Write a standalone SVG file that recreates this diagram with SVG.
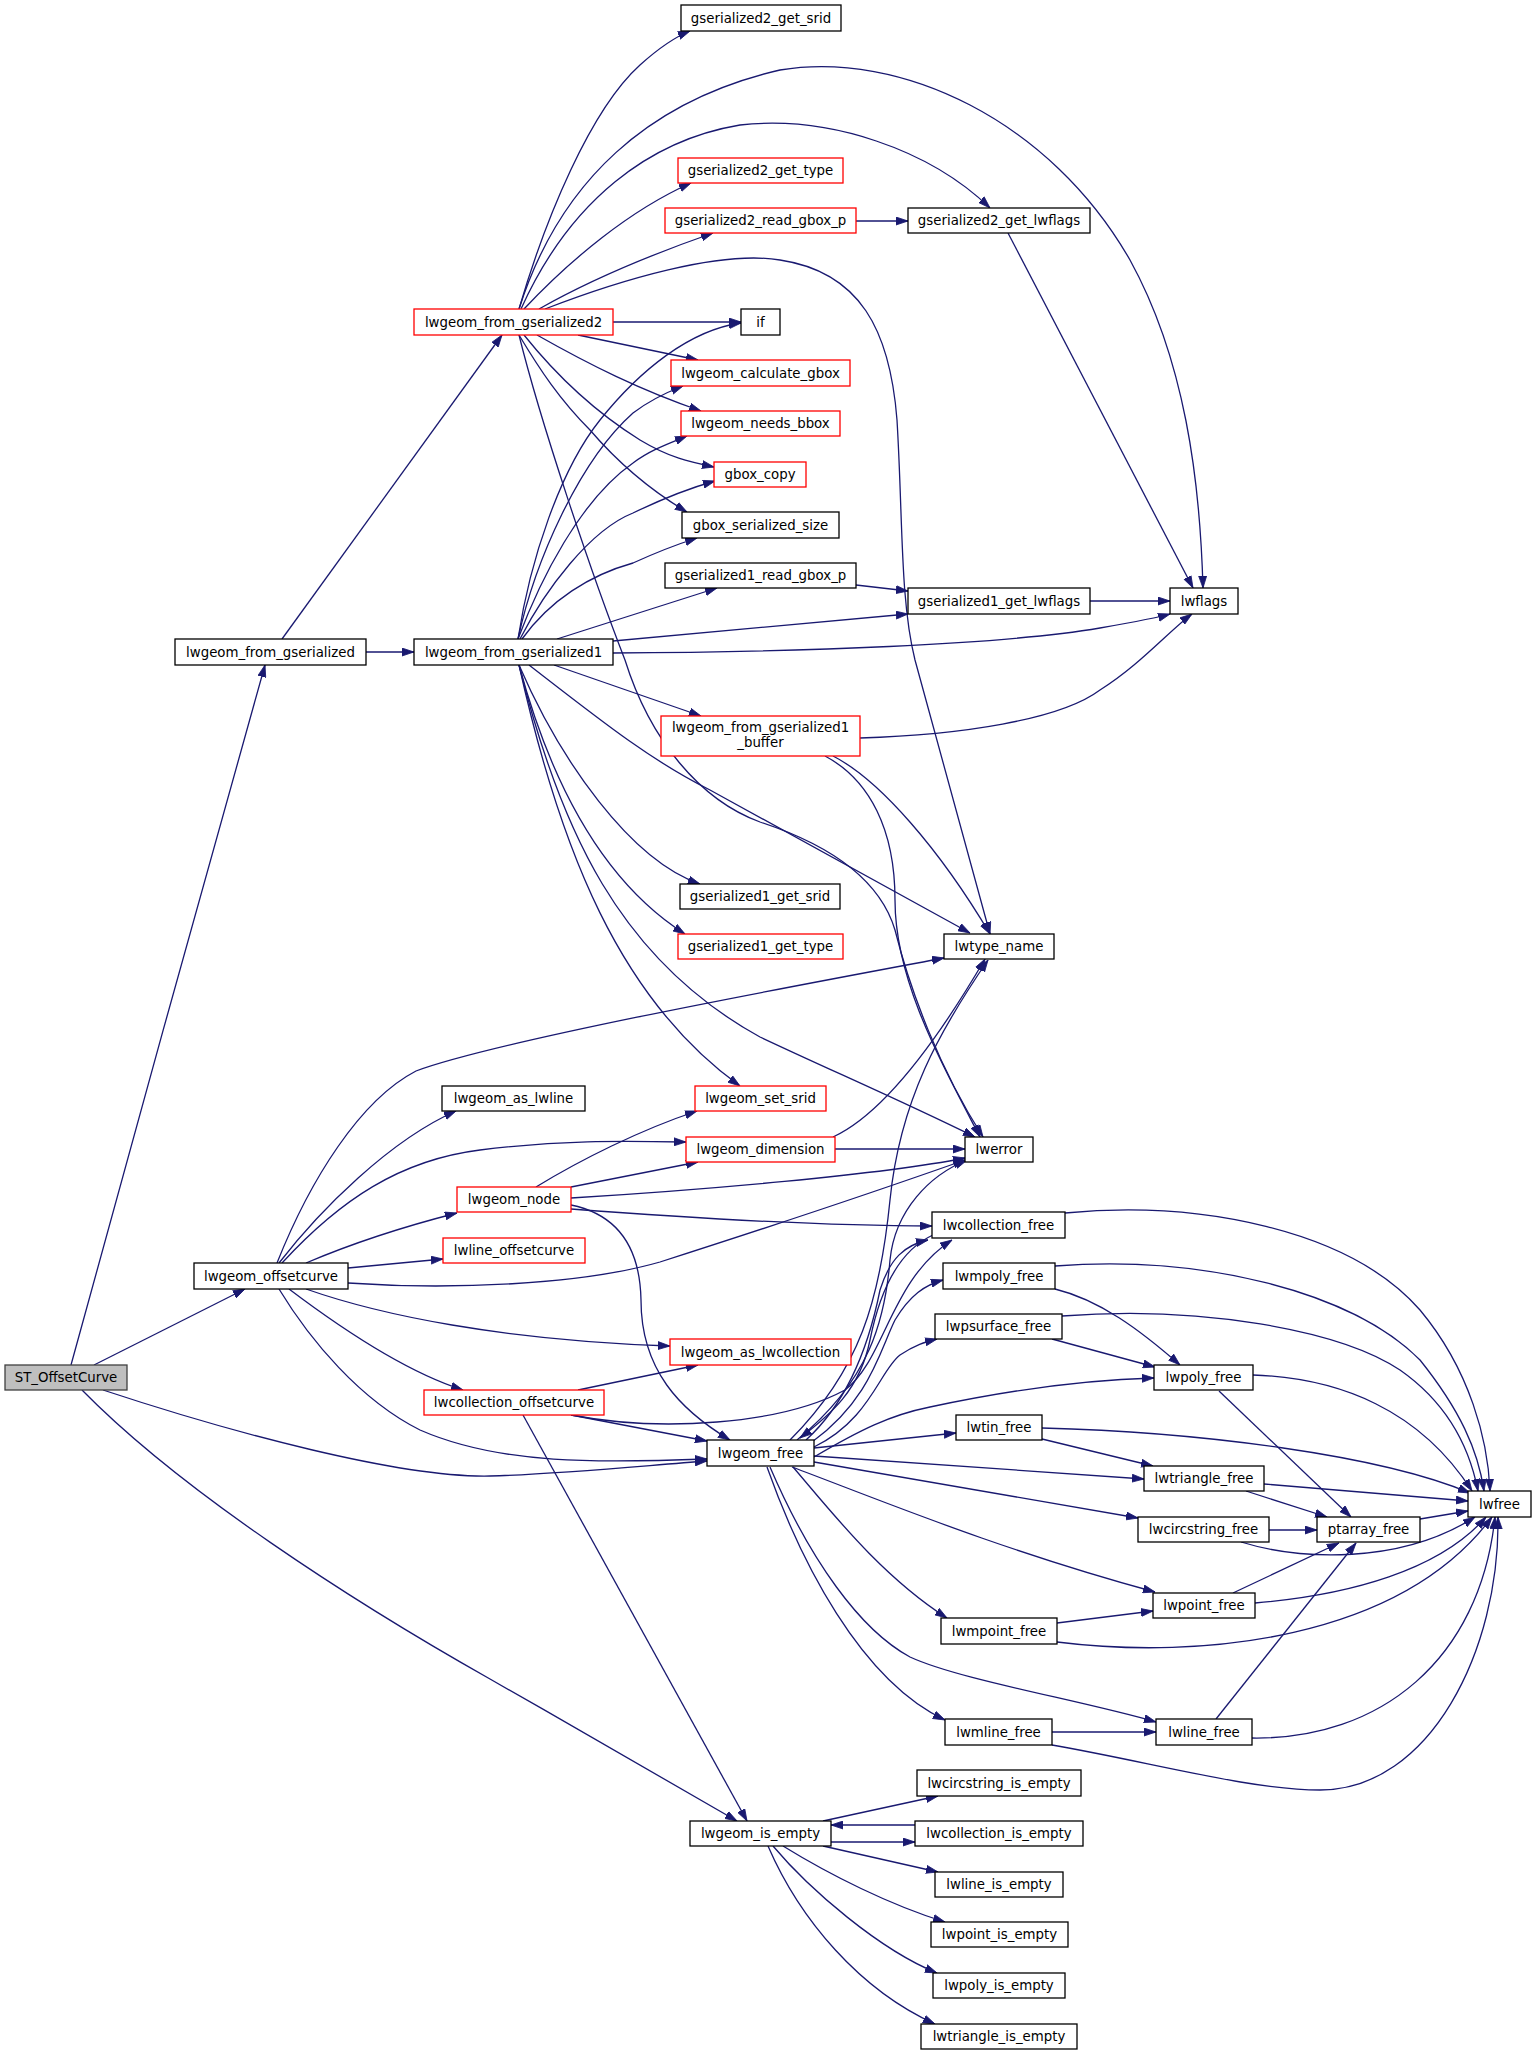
<svg xmlns="http://www.w3.org/2000/svg" width="1536" height="2055" viewBox="0 0 1536 2055">
<defs>
<marker id="ah" markerUnits="userSpaceOnUse" markerWidth="12" markerHeight="9" viewBox="0 0 12 9" refX="12" refY="4.5" orient="auto">
<path d="M0,0.5 L12,4.5 L0,8.5 z" fill="#191970" stroke="#191970" stroke-width="0.8"/>
</marker>
</defs>
<style>
.n rect{fill:#ffffff;stroke:#000000;stroke-width:1.3}
.n.r rect{stroke:#ff0000}
.n.g rect{fill:#bfbfbf;stroke:#404040}
.n text{font-family:"DejaVu Sans","Liberation Sans",sans-serif;font-size:13.33px;fill:#000000;text-anchor:middle}
#edges path{fill:none;stroke:#191970;stroke-width:1.3;marker-end:url(#ah)}
</style>
<rect width="1536" height="2055" fill="#ffffff"/>
<g id="edges">
<!-- ST_OffsetCurve -->
<path d="M71,1365 C120,1180 220,830 265,665"/>
<path d="M94,1365 L245,1289"/>
<path d="M103,1390 C230,1432 400,1478 490,1476 C560,1474 640,1466 707,1461"/>
<path d="M82,1390 C180,1490 350,1600 490,1679 C580,1730 680,1788 737,1821"/>
<!-- lwgeom_from_gserialized -->
<path d="M282,639 L502,335"/>
<path d="M366,652 L414,652"/>
<!-- lwgeom_from_gserialized2 -->
<path d="M519,309 C545,220 590,110 640,65 C660,47 675,37 690,31"/>
<path d="M519,309 C560,180 650,100 780,70 C900,50 1050,120 1130,260 C1185,360 1200,480 1203,588"/>
<path d="M521,309 C570,200 650,140 740,125 C830,115 930,150 990,208"/>
<path d="M524,309 C570,260 630,210 691,183"/>
<path d="M539,309 C590,280 650,255 713,233"/>
<path d="M545,309 C620,280 720,250 780,260 C860,272 890,330 897,420 C903,520 900,600 915,660 L990,934"/>
<path d="M613,322 L741,322"/>
<path d="M578,335 L698,360"/>
<path d="M537,335 C590,365 640,390 701,411"/>
<path d="M524,335 C560,380 600,415 640,440 C670,458 690,462 714,467"/>
<path d="M519,335 C540,370 560,400 590,430 C620,465 650,490 687,512"/>
<path d="M519,335 C540,420 590,570 625,660 C650,740 700,800 760,822 C830,845 880,880 895,930 C910,990 940,1070 983,1137"/>
<!-- lwgeom_from_gserialized1 -->
<path d="M518,639 C530,560 560,470 600,420 C640,370 690,330 741,323"/>
<path d="M518,639 C535,560 580,460 633,413 C650,400 665,393 683,386"/>
<path d="M518,639 C540,580 580,500 633,463 C650,450 670,443 687,436"/>
<path d="M520,639 C545,590 590,530 633,513 C660,500 690,488 715,481"/>
<path d="M522,639 C550,600 590,575 633,563 C655,553 675,545 697,538"/>
<path d="M557,639 L717,588"/>
<path d="M613,641 L908,614"/>
<path d="M613,653 C800,652 1000,645 1100,628 C1140,621 1160,617 1170,614"/>
<path d="M554,665 L701,716"/>
<path d="M529,665 C600,720 650,760 710,790 L970,933"/>
<path d="M519,665 C560,830 620,960 760,1037 C830,1070 900,1100 975,1137"/>
<path d="M519,665 C560,760 630,860 700,884"/>
<path d="M519,665 C550,780 600,880 685,934"/>
<path d="M519,665 C560,850 620,1000 740,1086"/>
<!-- gserialized helpers -->
<path d="M856,221 L908,221"/>
<path d="M1008,233 L1193,588"/>
<path d="M856,585 L908,591"/>
<path d="M1090,601 L1170,601"/>
<!-- buffer -->
<path d="M860,738 C960,735 1060,720 1100,690 C1140,665 1170,630 1192,614"/>
<path d="M833,756 C880,780 940,850 990,934"/>
<path d="M825,756 C870,780 895,830 895,900 C895,980 940,1060 980,1137"/>
<!-- lwgeom_offsetcurve -->
<path d="M277,1263 C310,1180 360,1100 416,1071 C500,1040 800,985 944,958"/>
<path d="M279,1263 C320,1210 390,1140 456,1111"/>
<path d="M282,1263 C340,1200 400,1160 480,1150 C560,1140 620,1141 686,1142"/>
<path d="M306,1263 C360,1240 410,1225 457,1213"/>
<path d="M348,1268 L443,1259"/>
<path d="M348,1283 C450,1290 580,1285 660,1262 C760,1230 880,1190 965,1160"/>
<path d="M306,1289 C380,1315 500,1340 670,1346"/>
<path d="M289,1289 C330,1320 400,1370 463,1390"/>
<path d="M279,1289 C310,1340 360,1400 420,1430 C500,1465 600,1463 707,1459"/>
<!-- lwgeom_node -->
<path d="M536,1187 C580,1160 640,1130 697,1111"/>
<path d="M571,1187 L698,1162"/>
<path d="M571,1198 C700,1190 880,1175 965,1158"/>
<path d="M571,1209 C650,1215 800,1226 932,1226"/>
<path d="M571,1205 C620,1215 640,1250 641,1300 C641,1370 680,1410 730,1440"/>
<!-- lwgeom_dimension -->
<path d="M833,1137 C870,1120 920,1070 985,959"/>
<path d="M835,1149 L965,1149"/>
<!-- lwcollection_offsetcurve -->
<path d="M578,1390 L698,1365"/>
<path d="M571,1415 L707,1441"/>
<path d="M571,1415 C660,1432 780,1425 845,1390 C885,1360 890,1280 952,1240"/>
<path d="M523,1415 L747,1821"/>
<!-- lwgeom_free -->
<path d="M790,1440 C860,1370 880,1300 890,1200 C900,1100 940,1030 988,960"/>
<path d="M797,1440 C870,1380 885,1320 890,1260 C895,1210 930,1175 967,1160"/>
<path d="M806,1440 C850,1400 870,1340 880,1290 C890,1258 905,1245 928,1240"/>
<path d="M812,1442 C870,1400 880,1350 895,1320 C910,1295 925,1285 943,1280"/>
<path d="M814,1447 C870,1420 880,1370 900,1355 C915,1345 925,1342 937,1339"/>
<path d="M814,1457 C860,1430 890,1415 930,1407 C1000,1392 1080,1380 1154,1378"/>
<path d="M814,1448 L956,1433"/>
<path d="M814,1456 L1144,1479"/>
<path d="M814,1462 L1138,1518"/>
<path d="M792,1467 C880,1500 1000,1550 1155,1592"/>
<path d="M793,1467 C830,1510 880,1575 947,1618"/>
<path d="M767,1467 C800,1560 860,1680 945,1720"/>
<path d="M770,1467 C810,1560 860,1630 910,1657 C960,1680 1080,1700 1156,1722"/>
<!-- lwcollection_free -> lwgeom_free -->
<path d="M933,1235 C900,1250 880,1290 870,1340 C860,1390 830,1415 800,1438"/>
<!-- free chain -->
<path d="M1065,1213 C1200,1200 1350,1230 1420,1310 C1470,1370 1488,1440 1490,1491"/>
<path d="M1055,1266 C1200,1255 1350,1290 1420,1360 C1460,1410 1478,1450 1484,1491"/>
<path d="M1055,1289 C1100,1300 1140,1330 1180,1365"/>
<path d="M1062,1316 C1200,1305 1340,1330 1400,1370 C1450,1405 1470,1450 1478,1491"/>
<path d="M1052,1339 L1155,1367"/>
<path d="M1253,1375 C1340,1378 1420,1410 1472,1491"/>
<path d="M1219,1391 L1351,1517"/>
<path d="M1042,1428 C1200,1432 1380,1455 1470,1493"/>
<path d="M1042,1439 L1153,1466"/>
<path d="M1264,1484 L1468,1501"/>
<path d="M1246,1491 L1327,1517"/>
<path d="M1269,1530 L1317,1530"/>
<path d="M1241,1542 C1300,1560 1400,1565 1475,1517"/>
<path d="M1420,1519 L1468,1511"/>
<path d="M1233,1593 L1339,1543"/>
<path d="M1255,1603 C1350,1595 1440,1570 1486,1517"/>
<path d="M1057,1623 L1153,1611"/>
<path d="M1057,1642 C1200,1660 1400,1640 1492,1517"/>
<path d="M1052,1732 L1156,1732"/>
<path d="M1052,1745 C1150,1762 1250,1790 1320,1790 C1430,1790 1500,1650 1498,1517"/>
<path d="M1216,1719 L1356,1543"/>
<path d="M1252,1738 C1380,1740 1480,1660 1495,1517"/>
<!-- lwgeom_is_empty -->
<path d="M823,1821 L938,1796"/>
<path d="M915,1825 L831,1825"/>
<path d="M831,1842 L915,1842"/>
<path d="M823,1846 L938,1872"/>
<path d="M783,1846 C830,1875 890,1905 945,1922"/>
<path d="M773,1846 C810,1890 880,1950 937,1973"/>
<path d="M768,1846 C800,1920 860,1990 935,2024"/>
</g>
<g id="n_st" class="n g"><rect x="5" y="1365" width="122" height="25"/><text x="66" y="1382">ST_OffsetCurve</text></g>
<g id="n_from" class="n"><rect x="175" y="639" width="191" height="26"/><text x="270.5" y="657">lwgeom_from_gserialized</text></g>
<g id="n_offsetcurve" class="n"><rect x="194" y="1263" width="154" height="26"/><text x="271" y="1281">lwgeom_offsetcurve</text></g>
<g id="n_lwgeom_free" class="n"><rect x="707" y="1440" width="107" height="26"/><text x="760.5" y="1458">lwgeom_free</text></g>
<g id="n_is_empty" class="n"><rect x="690" y="1821" width="141" height="25"/><text x="760.5" y="1838">lwgeom_is_empty</text></g>
<g id="n_from1" class="n"><rect x="414" y="639" width="199" height="26"/><text x="513.5" y="657">lwgeom_from_gserialized1</text></g>
<g id="n_from2" class="n r"><rect x="414" y="309" width="199" height="26"/><text x="513.5" y="327">lwgeom_from_gserialized2</text></g>
<g id="n_g2srid" class="n"><rect x="681" y="5" width="160" height="26"/><text x="761" y="23">gserialized2_get_srid</text></g>
<g id="n_lwflags" class="n"><rect x="1170" y="588" width="68" height="26"/><text x="1204" y="606">lwflags</text></g>
<g id="n_g2lwflags" class="n"><rect x="908" y="208" width="182" height="25"/><text x="999" y="225">gserialized2_get_lwflags</text></g>
<g id="n_g2type" class="n r"><rect x="678" y="158" width="165" height="25"/><text x="760.5" y="175">gserialized2_get_type</text></g>
<g id="n_g2read" class="n r"><rect x="665" y="208" width="191" height="25"/><text x="760.5" y="225">gserialized2_read_gbox_p</text></g>
<g id="n_lwtype_name" class="n"><rect x="944" y="934" width="110" height="25"/><text x="999" y="951">lwtype_name</text></g>
<g id="n_if" class="n"><rect x="741" y="309" width="39" height="26"/><text x="760.5" y="327">if</text></g>
<g id="n_calc" class="n r"><rect x="671" y="360" width="179" height="26"/><text x="760.5" y="378">lwgeom_calculate_gbox</text></g>
<g id="n_needs" class="n r"><rect x="681" y="411" width="159" height="25"/><text x="760.5" y="428">lwgeom_needs_bbox</text></g>
<g id="n_gbox_copy" class="n r"><rect x="714" y="462" width="92" height="25"/><text x="760" y="479">gbox_copy</text></g>
<g id="n_gbox_size" class="n"><rect x="682" y="512" width="157" height="26"/><text x="760.5" y="530">gbox_serialized_size</text></g>
<g id="n_lwerror" class="n"><rect x="965" y="1137" width="68" height="25"/><text x="999" y="1154">lwerror</text></g>
<g id="n_g1read" class="n"><rect x="665" y="563" width="191" height="25"/><text x="760.5" y="580">gserialized1_read_gbox_p</text></g>
<g id="n_g1lwflags" class="n"><rect x="908" y="588" width="182" height="26"/><text x="999" y="606">gserialized1_get_lwflags</text></g>
<g id="n_buffer" class="n r"><rect x="661" y="716" width="199" height="40"/><text x="760.5" y="732">lwgeom_from_gserialized1</text><text x="760.5" y="747">_buffer</text></g>
<g id="n_g1srid" class="n"><rect x="680" y="884" width="160" height="25"/><text x="760" y="901">gserialized1_get_srid</text></g>
<g id="n_g1type" class="n r"><rect x="678" y="934" width="165" height="25"/><text x="760.5" y="951">gserialized1_get_type</text></g>
<g id="n_as_lwline" class="n"><rect x="442" y="1086" width="143" height="25"/><text x="513.5" y="1103">lwgeom_as_lwline</text></g>
<g id="n_set_srid" class="n r"><rect x="695" y="1086" width="131" height="25"/><text x="760.5" y="1103">lwgeom_set_srid</text></g>
<g id="n_dimension" class="n r"><rect x="686" y="1137" width="149" height="25"/><text x="760.5" y="1154">lwgeom_dimension</text></g>
<g id="n_node" class="n r"><rect x="457" y="1187" width="114" height="25"/><text x="514" y="1204">lwgeom_node</text></g>
<g id="n_line_offset" class="n r"><rect x="443" y="1238" width="142" height="25"/><text x="514" y="1255">lwline_offsetcurve</text></g>
<g id="n_as_lwcoll" class="n r"><rect x="670" y="1339" width="181" height="26"/><text x="760.5" y="1357">lwgeom_as_lwcollection</text></g>
<g id="n_coll_offset" class="n r"><rect x="424" y="1390" width="180" height="25"/><text x="514" y="1407">lwcollection_offsetcurve</text></g>
<g id="n_coll_free" class="n"><rect x="932" y="1212" width="133" height="26"/><text x="998.5" y="1230">lwcollection_free</text></g>
<g id="n_mpoly_free" class="n"><rect x="943" y="1263" width="112" height="26"/><text x="999" y="1281">lwmpoly_free</text></g>
<g id="n_psurface_free" class="n"><rect x="935" y="1314" width="127" height="25"/><text x="998.5" y="1331">lwpsurface_free</text></g>
<g id="n_poly_free" class="n"><rect x="1154" y="1365" width="99" height="25"/><text x="1203.5" y="1382">lwpoly_free</text></g>
<g id="n_tin_free" class="n"><rect x="956" y="1415" width="86" height="25"/><text x="999" y="1432">lwtin_free</text></g>
<g id="n_triangle_free" class="n"><rect x="1144" y="1466" width="120" height="25"/><text x="1204" y="1483">lwtriangle_free</text></g>
<g id="n_lwfree" class="n"><rect x="1468" y="1491" width="63" height="26"/><text x="1499.5" y="1509">lwfree</text></g>
<g id="n_circstring_free" class="n"><rect x="1138" y="1517" width="131" height="25"/><text x="1203.5" y="1534">lwcircstring_free</text></g>
<g id="n_ptarray_free" class="n"><rect x="1317" y="1517" width="103" height="25"/><text x="1368.5" y="1534">ptarray_free</text></g>
<g id="n_point_free" class="n"><rect x="1153" y="1593" width="102" height="25"/><text x="1204" y="1610">lwpoint_free</text></g>
<g id="n_mpoint_free" class="n"><rect x="941" y="1618" width="116" height="26"/><text x="999" y="1636">lwmpoint_free</text></g>
<g id="n_mline_free" class="n"><rect x="945" y="1719" width="107" height="26"/><text x="998.5" y="1737">lwmline_free</text></g>
<g id="n_line_free" class="n"><rect x="1156" y="1719" width="96" height="26"/><text x="1204" y="1737">lwline_free</text></g>
<g id="n_circ_empty" class="n"><rect x="917" y="1770" width="164" height="26"/><text x="999" y="1788">lwcircstring_is_empty</text></g>
<g id="n_coll_empty" class="n"><rect x="915" y="1821" width="168" height="25"/><text x="999" y="1838">lwcollection_is_empty</text></g>
<g id="n_line_empty" class="n"><rect x="935" y="1872" width="128" height="25"/><text x="999" y="1889">lwline_is_empty</text></g>
<g id="n_point_empty" class="n"><rect x="931" y="1922" width="137" height="25"/><text x="999.5" y="1939">lwpoint_is_empty</text></g>
<g id="n_poly_empty" class="n"><rect x="933" y="1973" width="132" height="25"/><text x="999" y="1990">lwpoly_is_empty</text></g>
<g id="n_triangle_empty" class="n"><rect x="921" y="2024" width="156" height="25"/><text x="999" y="2041">lwtriangle_is_empty</text></g>
</svg>
